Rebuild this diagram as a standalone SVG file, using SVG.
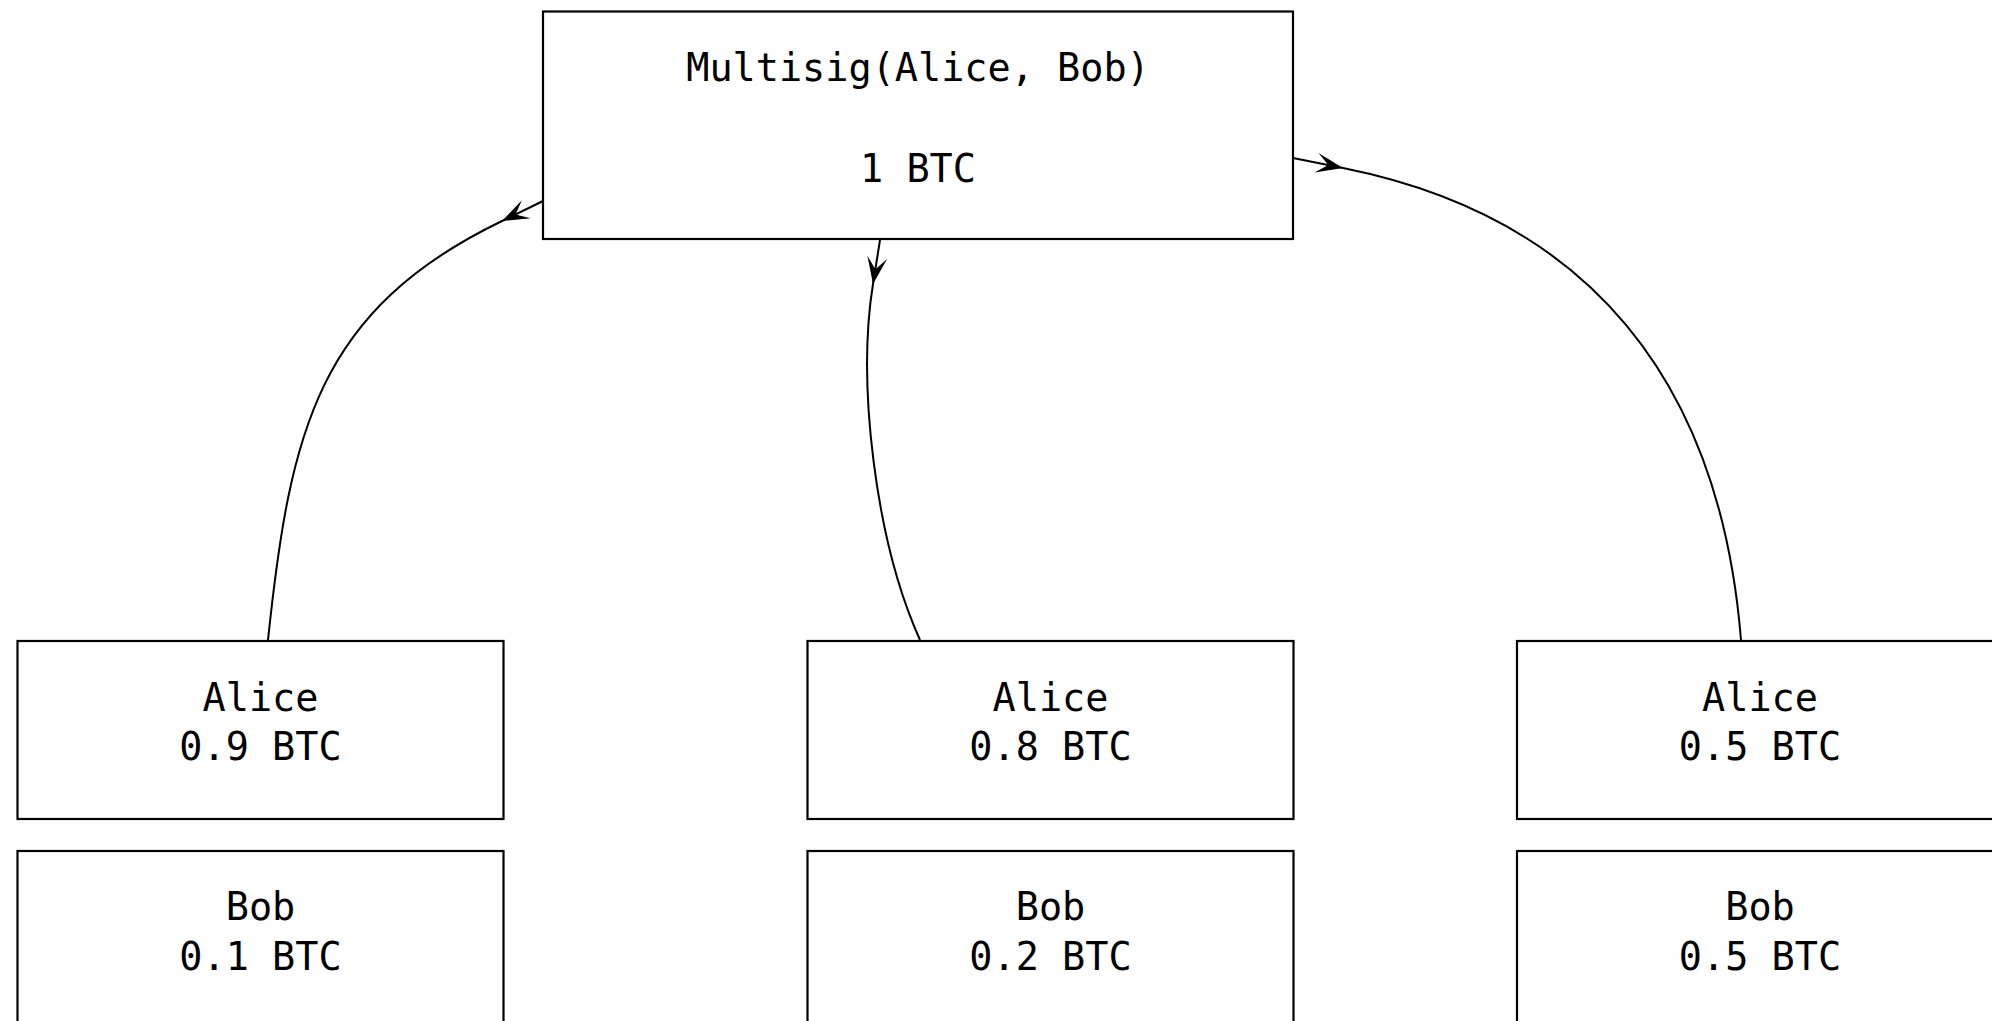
<svg xmlns="http://www.w3.org/2000/svg" width="1992" height="1021" viewBox="0 0 1992 1021">
  <defs>
    <style>
      .box { fill: #ffffff; stroke: #000000; stroke-width: 2.2; }
      .lbl { font-family: "DejaVu Sans Mono", "Liberation Mono", monospace; font-size: 38.5px; fill: #000000; text-anchor: middle; }
      .edge { fill: none; stroke: #000000; stroke-width: 2; marker-mid: url(#head); }
    </style>
    <!-- arrowhead drawn at the first vertex of each edge, tip on the vertex -->
    <marker id="head" viewBox="-28 -11 30 22" refX="0" refY="0" markerWidth="30" markerHeight="22" markerUnits="userSpaceOnUse" orient="auto">
      <path d="M0,0 L-27,-10 L-15,0 L-27,10 Z" fill="#000000"/>
    </marker>
  </defs>

  <rect width="1992" height="1021" fill="#ffffff"/>

  <g id="connectors">
    <path class="edge" d="M543,201 L502,221 C318,310 290,430 268,640"/>
    <path class="edge" d="M880,240 L873,284 C857,383 875,540 920,640"/>
    <path class="edge" d="M1293,158 L1343,168 C1588,217 1720,380 1741,640"/>
  </g>

  <g id="multisig">
    <rect class="box" x="543" y="11.5" width="750" height="227.5"/>
    <text class="lbl" x="918" y="81">Multisig(Alice, Bob)</text>
    <text class="lbl" x="918" y="182">1 BTC</text>
  </g>

  <g id="alice1">
    <rect class="box" x="17.5" y="641" width="486" height="178"/>
    <text class="lbl" x="260.5" y="711">Alice</text>
    <text class="lbl" x="260.5" y="760">0.9 BTC</text>
  </g>
  <g id="bob1">
    <rect class="box" x="17.5" y="851" width="486" height="178"/>
    <text class="lbl" x="260.5" y="920">Bob</text>
    <text class="lbl" x="260.5" y="970">0.1 BTC</text>
  </g>

  <g id="alice2">
    <rect class="box" x="807.5" y="641" width="486" height="178"/>
    <text class="lbl" x="1050.5" y="711">Alice</text>
    <text class="lbl" x="1050.5" y="760">0.8 BTC</text>
  </g>
  <g id="bob2">
    <rect class="box" x="807.5" y="851" width="486" height="178"/>
    <text class="lbl" x="1050.5" y="920">Bob</text>
    <text class="lbl" x="1050.5" y="970">0.2 BTC</text>
  </g>

  <g id="alice3">
    <rect class="box" x="1517" y="641" width="486" height="178"/>
    <text class="lbl" x="1760" y="711">Alice</text>
    <text class="lbl" x="1760" y="760">0.5 BTC</text>
  </g>
  <g id="bob3">
    <rect class="box" x="1517" y="851" width="486" height="178"/>
    <text class="lbl" x="1760" y="920">Bob</text>
    <text class="lbl" x="1760" y="970">0.5 BTC</text>
  </g>
</svg>
